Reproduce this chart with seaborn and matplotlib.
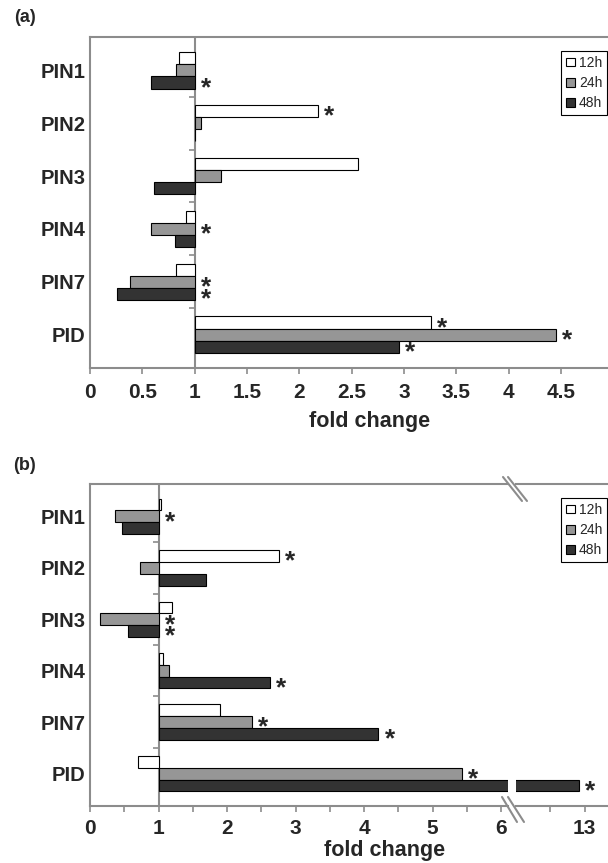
import numpy as np
import pandas as pd
import matplotlib
matplotlib.use('Agg')
import matplotlib.pyplot as plt
import seaborn as sns
from matplotlib.patches import Patch
from matplotlib.lines import Line2D
from matplotlib.ticker import FormatStrFormatter, MultipleLocator, FixedLocator

genes = ['PIN1', 'PIN2', 'PIN3', 'PIN4', 'PIN7', 'PID']
times = ['12h', '24h', '48h']

# panel (a) fold change
a_12h = [0.85, 2.18, 2.56, 0.92, 0.82, 3.26]
a_24h = [0.82, 1.06, 1.25, 0.58, 0.38, 4.45]
a_48h = [0.58, 1.00, 0.61, 0.81, 0.26, 2.95]
# panel (b) fold change
b_12h = [1.03, 2.76, 1.20, 1.06, 1.89, 0.70]
b_24h = [0.37, 0.73, 0.15, 1.16, 2.36, 5.43]
b_48h = [0.46, 1.69, 0.55, 2.62, 4.21, 12.92]

# significant (*) genes per time point
sig_a = {'12h': ['PIN2', 'PID'], '24h': ['PIN4', 'PIN7', 'PID'], '48h': ['PIN1', 'PIN7', 'PID']}
sig_b = {'12h': ['PIN2'], '24h': ['PIN1', 'PIN3', 'PIN7', 'PID'], '48h': ['PIN3', 'PIN4', 'PIN7', 'PID']}

colors = {'12h': 'white', '24h': '#969696', '48h': '#333333'}
gray = '#8c8c8c'

sns.set_style('white')
plt.rcParams['font.family'] = ['Liberation Sans', 'DejaVu Sans']

W, H = 608, 863


def box(l, t, r, b):
    return [l / W, 1 - b / H, (r - l) / W, (b - t) / H]


def make_df(v12, v24, v48):
    df = pd.DataFrame({'gene': genes * 3,
                       'time': np.repeat(times, len(genes)),
                       'fold': v12 + v24 + v48})
    df['delta'] = df['fold'] - 1
    return df


def draw_bars(ax, df, sig, xlim):
    ax.axvline(1, color=gray, lw=1.5, zorder=0.5)
    sns.barplot(data=df, x='delta', y='gene', hue='time', order=genes, hue_order=times,
                palette=colors, orient='y', width=0.69, saturation=1, errorbar=None,
                edgecolor='black', linewidth=0.8, left=1, legend=False, ax=ax)
    ax.set_xlim(*xlim)
    # category ticks on the crossing line at 1
    ax.plot(np.ones(len(genes) - 1), np.arange(len(genes) - 1) + 0.5, ls='none',
            marker=0, ms=4, mew=1.2, color=gray, zorder=0.6)
    for t, cont in zip(times, ax.containers):
        vals = df.loc[df.time == t, 'fold'].to_numpy()
        for g, v, bar in zip(genes, vals, cont):
            if g not in sig[t]:
                continue
            x = max(v, 1)
            if not (xlim[0] <= x <= xlim[1]):
                continue
            y = bar.get_y() + bar.get_height() / 2
            ax.annotate('*', (x, y), xytext=(8, -4), textcoords='offset points',
                        ha='center', va='center', fontsize=19, fontweight='bold')
    ax.set_xlabel('')
    ax.set_ylabel('')
    for s in ax.spines.values():
        s.set_color(gray)
        s.set_linewidth(1.5)
    ax.spines['right'].set_visible(False)
    ax.tick_params(axis='y', length=0, pad=3, labelsize=14.5)
    for lab in ax.get_yticklabels():
        lab.set_fontweight('bold')
    ax.tick_params(axis='x', which='both', direction='out', bottom=True, length=4,
                   width=1.2, color=gray, labelsize=15)


def add_legend(fig, x, y):
    handles = [Patch(facecolor=colors[t], edgecolor='black', lw=0.8) for t in times]
    leg = fig.legend(handles, times, loc='upper right', bbox_to_anchor=(x / W, 1 - y / H),
                     fontsize=10, frameon=True, fancybox=False, framealpha=1,
                     edgecolor='black', handlelength=0.6, handleheight=0.6,
                     handletextpad=0.3, labelspacing=0.45, borderpad=0.35,
                     borderaxespad=0)
    leg.get_frame().set_linewidth(0.8)


fig = plt.figure(figsize=(W / 100, H / 100), dpi=100)

# ---- panel (a)
df_a = make_df(a_12h, a_24h, a_48h)
ax_a = fig.add_axes(box(90, 37, 608, 368))
draw_bars(ax_a, df_a, sig_a, (0, 4.95))
ax_a.xaxis.set_major_locator(MultipleLocator(0.5))
ax_a.xaxis.set_major_formatter(FormatStrFormatter('%g'))
ax_a.tick_params(axis='x', pad=7)
for lab in ax_a.get_xticklabels():
    lab.set_fontweight('bold')
fig.text(370 / W, 1 - 421 / H, 'fold change', ha='center', va='center',
         fontsize=15.5, fontweight='bold')
fig.text(25 / W, 1 - 18 / H, '(a)', ha='center', va='center', fontsize=13, fontweight='bold')
add_legend(fig, 607, 51)

# ---- panel (b), broken x axis
df_b = make_df(b_12h, b_24h, b_48h)
ax_b1 = fig.add_axes(box(90, 484, 508, 806))
ax_b2 = fig.add_axes(box(516, 484, 608, 806))
draw_bars(ax_b1, df_b, sig_b, (0, 6.1))
draw_bars(ax_b2, df_b, sig_b, (12.0, 13.34))
ax_b1.xaxis.set_major_locator(FixedLocator([0, 1, 2, 3, 4, 5, 6]))
ax_b1.xaxis.set_minor_locator(FixedLocator(np.arange(0.5, 6.1, 1)))
ax_b2.xaxis.set_major_locator(FixedLocator([13]))
ax_b2.xaxis.set_minor_locator(FixedLocator([12.5]))
ax_b2.spines['left'].set_visible(False)
ax_b2.tick_params(axis='y', left=False, labelleft=False)
for ax in (ax_b1, ax_b2):
    ax.xaxis.set_major_formatter(FormatStrFormatter('%g'))
    ax.tick_params(axis='x', pad=5)
    for lab in ax.get_xticklabels():
        lab.set_fontweight('bold')
fig.text(385 / W, 1 - 850 / H, 'fold change', ha='center', va='center',
         fontsize=15.5, fontweight='bold')
fig.text(25 / W, 1 - 465 / H, '(b)', ha='center', va='center', fontsize=13, fontweight='bold')
add_legend(fig, 607, 498)

# break marks
for (x1, y1, x2, y2) in [(503, 477, 522, 501), (508, 477, 527, 501),
                         (502, 797, 517, 822), (508, 797, 524, 822)]:
    fig.add_artist(Line2D([x1 / W, x2 / W], [1 - y1 / H, 1 - y2 / H],
                          transform=fig.transFigure, color=gray, lw=1.5))

fig.savefig('out.png', dpi=100)
